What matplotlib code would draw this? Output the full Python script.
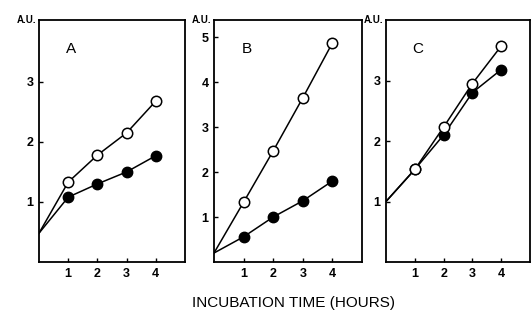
import matplotlib
matplotlib.use("Agg")
import matplotlib.pyplot as plt

plt.rcParams['font.family'] = ['Liberation Sans Narrow', 'Liberation Sans', 'DejaVu Sans']

hours = [0, 1, 2, 3, 4]
panels = ['A', 'B', 'C']
open_A = [0.48, 1.33, 1.78, 2.15, 2.68]
filled_A = [0.48, 1.08, 1.30, 1.50, 1.77]
open_B = [0.20, 1.33, 2.47, 3.65, 4.87]
filled_B = [0.20, 0.56, 1.00, 1.36, 1.80]
open_C = [1.00, 1.53, 2.23, 2.95, 3.57]
filled_C = [1.00, 1.53, 2.10, 2.80, 3.18]
yticks_A = [1, 2, 3]
yticks_B = [1, 2, 3, 4, 5]
yticks_C = [1, 2, 3]
xticks = [1, 2, 3, 4]
ylims = [4.03, 5.38, 4.0]
xlabel = 'INCUBATION TIME (HOURS)'

W, H = 531, 320
fig = plt.figure(figsize=(W / 100, H / 100), dpi=100)

boxes = [(39, 185), (214, 362), (386, 530)]
top, bottom = 20, 262
data = [(open_A, filled_A, yticks_A), (open_B, filled_B, yticks_B), (open_C, filled_C, yticks_C)]

for i, ((l, r), (op, fi, yt), name) in enumerate(zip(boxes, data, panels)):
    ax = fig.add_axes([l / W, 1 - bottom / H, (r - l) / W, (bottom - top) / H])
    ax.plot(hours, fi, '-', color='black', lw=1.1, marker='o', ms=7.5,
            mfc='black', mec='black', markevery=[1, 2, 3, 4], zorder=2)
    ax.plot(hours, op, '-', color='black', lw=1.1, marker='o', ms=7.5,
            mfc='white', mec='black', mew=1.1, markevery=[1, 2, 3, 4], zorder=3)
    ax.set_xlim(0, 5)
    ax.set_ylim(0, ylims[i])
    ax.set_xticks(xticks)
    ax.set_xticklabels([str(t) for t in xticks], fontweight='bold')
    ax.set_yticks(yt)
    ax.set_yticklabels([str(t) for t in yt], fontweight='bold')
    ax.tick_params(direction='in', length=3, width=1, labelsize=9, pad=4)
    for s in ax.spines.values():
        s.set_linewidth(1.3)
    ax.text(0.22, 0.88, name, transform=ax.transAxes, fontsize=11, ha='center', va='center')
    ax.text(-0.02, 1.0, 'A.U.', transform=ax.transAxes, fontsize=7, fontweight='bold',
            ha='right', va='center')

fig.text(294 / W, 1 - 303 / H, xlabel, fontsize=11, ha='center', va='center')

fig.savefig('out.png', dpi=100)
